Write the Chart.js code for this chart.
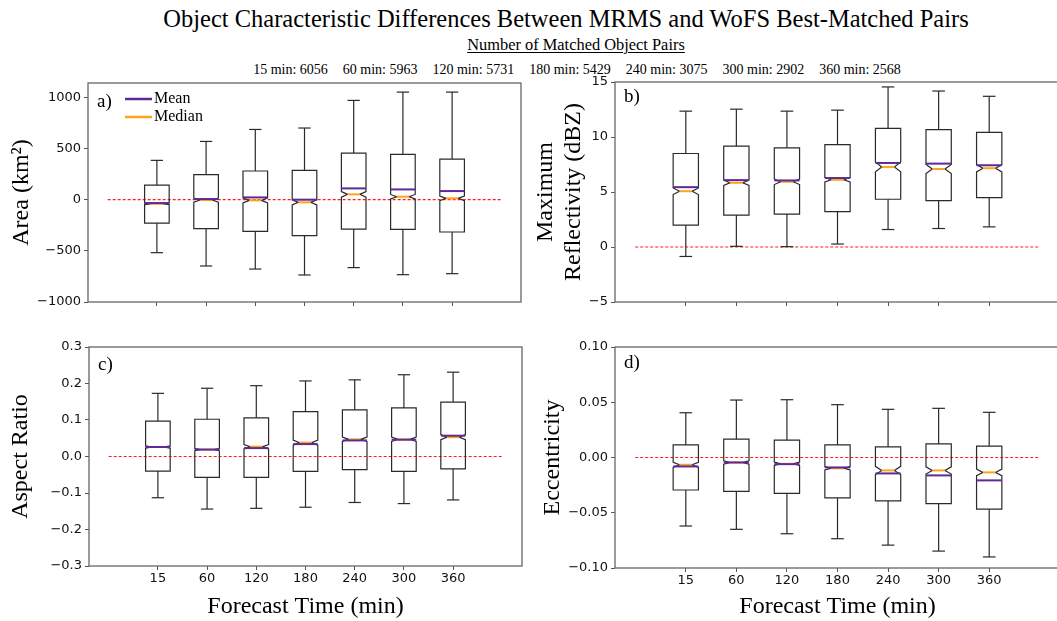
<!DOCTYPE html>
<html><head><meta charset="utf-8">
<script src="https://cdn.jsdelivr.net/npm/chart.js@4.4.1/dist/chart.umd.min.js"></script>
<style>
html,body{margin:0;padding:0;background:#fff;overflow:hidden;width:1057px;height:621px;}
#wrap{position:relative;width:1057px;height:621px;overflow:hidden;background:#fff;}
canvas{position:absolute;}
.t{position:absolute;text-align:center;font-family:'Liberation Serif','Times New Roman',serif;color:#000;white-space:nowrap;line-height:1;}
#counts span{display:inline-block;margin-right:15px;}
#counts span:last-child{margin-right:0;}
</style></head>
<body><div id="wrap">
<div class="t" id="title" style="left:0;width:1132px;top:7px;font-size:24.5px;">Object Characteristic Differences Between MRMS and WoFS Best-Matched Pairs</div>
<div class="t" id="sub" style="left:0;width:1152px;top:37px;font-size:16.4px;text-decoration:underline;text-decoration-thickness:1px;text-underline-offset:2px;">Number of Matched Object Pairs</div>
<div class="t" id="counts" style="left:0;width:1154px;top:63px;font-size:14px;"></div>
<canvas id="cA" width="530" height="250" style="left:0;top:70px;"></canvas>
<canvas id="cB" width="540" height="250" style="left:530px;top:70px;"></canvas>
<canvas id="cC" width="530" height="286" style="left:0;top:335px;"></canvas>
<canvas id="cD" width="540" height="286" style="left:530px;top:335px;"></canvas>
</div>
<script>
// ---------- data ----------
const categories = ['15','60','120','180','240','300','360'];
const pairCounts = [6056,5963,5731,5429,3075,2902,2568];
const xPositions = [1,2,3,4,5,6,7];
const zeroLineX = [0,8];

// a) Area (km^2)
const areaWhiskerLo = [-518,-648,-678,-736,-664,-733,-723];
const areaQ1        = [-230,-283,-310,-352,-287,-290,-316];
const areaMedian    = [-40,-4,-7,-26,52,29,13];
const areaMean      = [-33,6,22,0,110,100,84];
const areaQ3        = [142,244,280,286,455,442,397];
const areaWhiskerHi = [384,569,686,700,970,1051,1051];
const areaNotch     = [8,20,25,25,27,22,22];

// b) Maximum Reflectivity (dBZ)
const reflWhiskerLo = [-0.86,0.06,0.03,0.27,1.59,1.68,1.83];
const reflQ1        = [1.98,2.90,2.99,3.21,4.34,4.22,4.49];
const reflMedian    = [5.07,5.84,5.93,6.11,7.28,7.09,7.16];
const reflMean      = [5.44,6.08,6.05,6.27,7.64,7.58,7.43];
const reflQ3        = [8.50,9.17,9.02,9.30,10.79,10.67,10.42];
const reflWhiskerHi = [12.35,12.53,12.35,12.44,14.55,14.18,13.70];
const reflNotch     = [0.30,0.25,0.25,0.20,0.45,0.42,0.33];

// c) Aspect Ratio
const arWhiskerLo = [-0.113,-0.144,-0.142,-0.139,-0.126,-0.129,-0.119];
const arQ1        = [-0.040,-0.057,-0.057,-0.041,-0.036,-0.041,-0.034];
const arMedian    = [0.026,0.019,0.027,0.038,0.047,0.047,0.053];
const arMean      = [0.026,0.019,0.023,0.034,0.044,0.046,0.057];
const arQ3        = [0.097,0.102,0.106,0.123,0.128,0.133,0.149];
const arWhiskerHi = [0.173,0.187,0.194,0.207,0.210,0.224,0.231];
const arNotch     = [0.003,0.003,0.006,0.007,0.006,0.006,0.007];

// d) Eccentricity
const eccWhiskerLo = [-0.062,-0.065,-0.069,-0.0735,-0.0793,-0.0847,-0.090];
const eccQ1        = [-0.0294,-0.0306,-0.0324,-0.0366,-0.0393,-0.0417,-0.0468];
const eccMedian    = [-0.0066,-0.0045,-0.0057,-0.0098,-0.0117,-0.0117,-0.0135];
const eccMean      = [-0.0081,-0.0045,-0.0060,-0.0090,-0.0144,-0.0162,-0.0207];
const eccQ3        = [0.0114,0.0166,0.0157,0.0114,0.0096,0.0123,0.0103];
const eccWhiskerHi = [0.0405,0.052,0.0523,0.0478,0.0436,0.0445,0.0409];
const eccNotch     = [0.0023,0.0015,0.0015,0.0015,0.0037,0.0033,0.0030];

// ticks
const yTicksArea = [-1000,-500,0,500,1000];
const yTickLabelsArea = ['\u22121000','\u2212500','0','500','1000'];
const yTicksRefl = [-5,0,5,10,15];
const yTickLabelsRefl = ['\u22125','0','5','10','15'];
const yTicksAR = [-0.3,-0.2,-0.1,0.0,0.1,0.2,0.3];
const yTickLabelsAR = ['\u22120.3','\u22120.2','\u22120.1','0.0','0.1','0.2','0.3'];
const yTicksEcc = [-0.10,-0.05,0.00,0.05,0.10];
const yTickLabelsEcc = ['\u22120.10','\u22120.05','0.00','0.05','0.10'];

// ---------- header text ----------
document.getElementById('counts').innerHTML =
  categories.map((c,i)=>'<span>'+c+' min: '+pairCounts[i]+'</span>').join('');

const MEAN_COLOR = '#5c2a99';
const MEDIAN_COLOR = '#ffa31a';
const SERIF = "'Liberation Serif','Times New Roman',serif";
const SANS = "'DejaVu Sans',sans-serif";

const boxPlugin = {
  id: 'boxes',
  afterDatasetsDraw(chart, args, o) {
    const {ctx, chartArea: a, scales: {x, y}} = chart;
    const st = o.stats;
    const X = v => x.getPixelForValue(v), Y = v => y.getPixelForValue(v);
    ctx.save();
    const seg = (x1, y1, x2, y2) => { ctx.beginPath(); ctx.moveTo(X(x1), Y(y1)); ctx.lineTo(X(x2), Y(y2)); ctx.stroke(); };
    const hw = 0.25, nw = 0.125, cw = 0.125;
    for (let i = 0; i < xPositions.length; i++) {
      const p = xPositions[i];
      const med = st.med[i], n = st.notch[i];
      ctx.strokeStyle = '#2a2a2a'; ctx.lineWidth = 1.2; ctx.lineJoin = 'miter';
      seg(p, st.q1[i], p, st.lo[i]);
      seg(p, st.q3[i], p, st.hi[i]);
      seg(p - cw, st.lo[i], p + cw, st.lo[i]);
      seg(p - cw, st.hi[i], p + cw, st.hi[i]);
      const pts = [[p-hw,st.q1[i]],[p+hw,st.q1[i]],[p+hw,med-n],[p+nw,med],[p+hw,med+n],[p+hw,st.q3[i]],
                   [p-hw,st.q3[i]],[p-hw,med+n],[p-nw,med],[p-hw,med-n]];
      ctx.beginPath();
      pts.forEach((q, k) => k ? ctx.lineTo(X(q[0]), Y(q[1])) : ctx.moveTo(X(q[0]), Y(q[1])));
      ctx.closePath(); ctx.stroke();
      ctx.strokeStyle = MEDIAN_COLOR; ctx.lineWidth = 2;
      seg(p - nw, med, p + nw, med);
      ctx.strokeStyle = MEAN_COLOR; ctx.lineWidth = 2;
      seg(p - hw, st.mean[i], p + hw, st.mean[i]);
    }
    // frame
    ctx.strokeStyle = '#666'; ctx.lineWidth = 1.3;
    ctx.strokeRect(a.left, a.top, a.right - a.left, a.bottom - a.top);
    // panel letter
    ctx.fillStyle = '#000'; ctx.textBaseline = 'middle'; ctx.textAlign = 'left';
    ctx.font = '19px ' + SERIF;
    ctx.fillText(o.letter, a.left + 9, a.top + o.letterDy);
    if (o.legend) {
      ctx.lineWidth = 2.5;
      ctx.strokeStyle = MEAN_COLOR;
      ctx.beginPath(); ctx.moveTo(a.left + 37, a.top + 16); ctx.lineTo(a.left + 64, a.top + 16); ctx.stroke();
      ctx.strokeStyle = MEDIAN_COLOR;
      ctx.beginPath(); ctx.moveTo(a.left + 37, a.top + 34); ctx.lineTo(a.left + 64, a.top + 34); ctx.stroke();
      ctx.font = '16px ' + SERIF;
      ctx.fillText('Mean', a.left + 66, a.top + 16);
      ctx.fillText('Median', a.left + 66, a.top + 34);
    }
    ctx.restore();
  }
};

function makePanel(id, cfg) {
  return new Chart(document.getElementById(id), {
    type: 'scatter',
    data: { datasets: [{
      data: zeroLineX.map(v => ({x: v, y: 0})),
      showLine: true, borderColor: 'rgb(255,30,30)', borderWidth: 1.1,
      borderDash: [3, 2], pointRadius: 0, fill: false
    }]},
    options: {
      responsive: false, animation: false, devicePixelRatio: 1,
      layout: { padding: cfg.padding },
      plugins: {
        legend: { display: false }, tooltip: { enabled: false },
        boxes: { stats: cfg.stats, letter: cfg.letter, letterDy: cfg.letterDy, legend: cfg.legend }
      },
      scales: {
        x: {
          type: 'linear', min: -0.4, max: 8.4,
          afterBuildTicks: s => { s.ticks = xPositions.map(v => ({value: v})); },
          afterFit: s => { s.height = cfg.xHeight; },
          ticks: { display: cfg.xLabels, callback: (v, i) => categories[i], font: {family: SANS, size: 13},
                   color: '#111', padding: 1, maxRotation: 0, autoSkip: false },
          grid: { drawOnChartArea: false, drawTicks: true, tickLength: 4, color: '#555', lineWidth: 1 },
          border: { display: false },
          title: { display: cfg.xLabels, text: 'Forecast Time (min)', color: '#000',
                   font: {family: SERIF, size: 24, lineHeight: 1.15}, padding: {top: 0, bottom: 0} }
        },
        y: {
          type: 'linear', min: cfg.yMin, max: cfg.yMax,
          afterBuildTicks: s => { s.ticks = cfg.yTicks.map(v => ({value: v})); },
          afterFit: s => { s.width = cfg.yWidth; },
          ticks: { callback: (v, i) => cfg.yLabels[i], font: {family: SANS, size: 13}, color: '#111', padding: 3 },
          grid: { drawOnChartArea: false, drawTicks: true, tickLength: 4, color: '#555', lineWidth: 1 },
          border: { display: false },
          title: { display: true, text: cfg.yTitle, color: '#000',
                   font: {family: SERIF, size: 24, lineHeight: 1.15}, padding: {top: cfg.titlePad, bottom: 0} }
        }
      }
    },
    plugins: [boxPlugin]
  });
}

makePanel('cA', {
  padding: {left: 0, top: 13, right: 9, bottom: 8}, xHeight: 10, yWidth: 88, xLabels: false,
  yMin: -1000, yMax: 1140, yTicks: yTicksArea, yLabels: yTickLabelsArea, yTitle: 'Area (km\u00B2)', titlePad: 8,
  letter: 'a)', letterDy: 19, legend: true,
  stats: {lo: areaWhiskerLo, q1: areaQ1, med: areaMedian, mean: areaMean, q3: areaQ3, hi: areaWhiskerHi, notch: areaNotch}
});
makePanel('cB', {
  padding: {left: 0, top: 12, right: 10, bottom: 8}, xHeight: 10, yWidth: 85, xLabels: false,
  yMin: -5, yMax: 15, yTicks: yTicksRefl, yLabels: yTickLabelsRefl, yTitle: ['Maximum', 'Reflectivity (dBZ)'], titlePad: 2,
  letter: 'b)', letterDy: 15, legend: false,
  stats: {lo: reflWhiskerLo, q1: reflQ1, med: reflMedian, mean: reflMean, q3: reflQ3, hi: reflWhiskerHi, notch: reflNotch}
});
makePanel('cC', {
  padding: {left: 0, top: 12, right: 8, bottom: 0}, xHeight: 55, yWidth: 89, xLabels: true,
  yMin: -0.3, yMax: 0.3, yTicks: yTicksAR, yLabels: yTickLabelsAR, yTitle: 'Aspect Ratio', titlePad: 7,
  letter: 'c)', letterDy: 18, legend: false,
  stats: {lo: arWhiskerLo, q1: arQ1, med: arMedian, mean: arMean, q3: arQ3, hi: arWhiskerHi, notch: arNotch}
});
makePanel('cD', {
  padding: {left: 0, top: 12, right: 10, bottom: 0}, xHeight: 53, yWidth: 85, xLabels: true,
  yMin: -0.10, yMax: 0.10, yTicks: yTicksEcc, yLabels: yTickLabelsEcc, yTitle: 'Eccentricity', titlePad: 9,
  letter: 'd)', letterDy: 16, legend: false,
  stats: {lo: eccWhiskerLo, q1: eccQ1, med: eccMedian, mean: eccMean, q3: eccQ3, hi: eccWhiskerHi, notch: eccNotch}
});
</script>
</body></html>
